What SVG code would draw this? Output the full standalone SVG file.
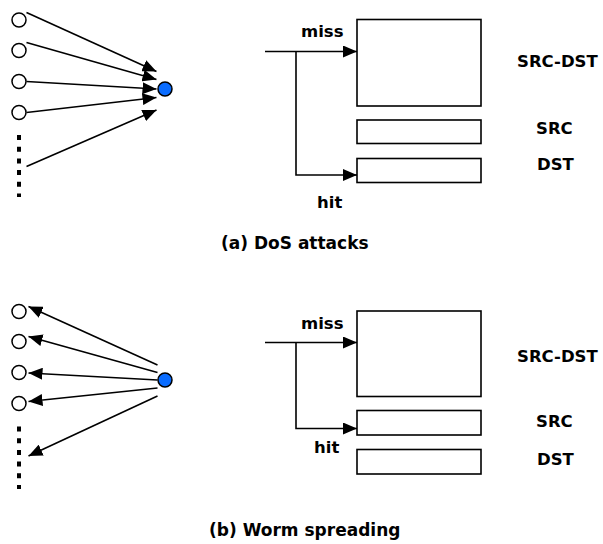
<svg xmlns="http://www.w3.org/2000/svg" width="603" height="544" viewBox="0 0 603 544">
<style>
text{font-family:"DejaVu Sans","Liberation Sans",sans-serif;font-weight:bold;font-size:16.5px;fill:#000}
.cap{font-size:17px}
.ln{stroke:#000;stroke-width:1.6;fill:none}
.node{fill:#fff;stroke:#000;stroke-width:1.5}
.hub{fill:#0a6cff;stroke:#000;stroke-width:1.5}
.box{fill:#fff;stroke:#000;stroke-width:1.6}
.dots{stroke:#000;stroke-width:4;stroke-dasharray:5 6.7;fill:none}
</style>
<defs>
<marker id="ah" markerUnits="userSpaceOnUse" markerWidth="14" markerHeight="12" refX="14" refY="6" orient="auto">
<path d="M0,0 L14,6 L0,12 z" fill="#000"/>
</marker>
</defs>
<rect width="603" height="544" fill="#fff"/>
<g id="top-sources">
<circle class="node" cx="19" cy="20" r="7"/>
<circle class="node" cx="19" cy="50.5" r="7"/>
<circle class="node" cx="19" cy="81.5" r="7"/>
<circle class="node" cx="19" cy="112.5" r="7"/>
<line class="dots" x1="19" y1="135" x2="19" y2="197"/>
</g>
<g id="top-target"><circle class="hub" cx="165" cy="89" r="7"/></g>
<g id="top-table">
<rect class="box" x="357" y="19.5" width="124" height="86.5"/>
<rect class="box" x="357" y="120" width="124" height="23.5"/>
<rect class="box" x="357" y="158.5" width="124" height="24"/>
<text x="301" y="36.5">miss</text>
<text x="317" y="208">hit</text>
<text x="517" y="66.5">SRC-DST</text>
<text x="536" y="133.5">SRC</text>
<text x="537" y="170">DST</text>
</g>
<g id="bottom-sources">
<circle class="node" cx="19" cy="311.5" r="7"/>
<circle class="node" cx="19" cy="341.5" r="7"/>
<circle class="node" cx="19" cy="372.5" r="7"/>
<circle class="node" cx="19" cy="403.5" r="7"/>
<line class="dots" x1="19" y1="426.5" x2="19" y2="489"/>
</g>
<g id="bottom-target"><circle class="hub" cx="165" cy="380" r="7"/></g>
<g id="bottom-table">
<rect class="box" x="357" y="311" width="124" height="85.5"/>
<rect class="box" x="357" y="410.5" width="124" height="24.5"/>
<rect class="box" x="357" y="449.5" width="124" height="24.5"/>
<text x="301" y="329">miss</text>
<text x="314" y="453">hit</text>
<text x="517" y="361.5">SRC-DST</text>
<text x="536" y="426.5">SRC</text>
<text x="537" y="465">DST</text>
</g>
<g id="captions">
<text class="cap" x="221" y="249">(a) DoS attacks</text>
<text class="cap" x="209" y="536">(b) Worm spreading</text>
</g>
<g id="connectors">
<line class="ln" x1="26.5" y1="12.5" x2="156.5" y2="71.5" marker-end="url(#ah)"/>
<line class="ln" x1="26.5" y1="42.5" x2="156.5" y2="79.5" marker-end="url(#ah)"/>
<line class="ln" x1="26.5" y1="81.5" x2="156.5" y2="89" marker-end="url(#ah)"/>
<line class="ln" x1="26.5" y1="112.5" x2="156.5" y2="97.5" marker-end="url(#ah)"/>
<line class="ln" x1="26.5" y1="166.5" x2="156.5" y2="110" marker-end="url(#ah)"/>
<line class="ln" x1="265" y1="51.5" x2="357" y2="51.5" marker-end="url(#ah)"/>
<polyline class="ln" points="296,51.5 296,175 357,175" marker-end="url(#ah)"/>
<line class="ln" x1="157.5" y1="365" x2="28.5" y2="306.5" marker-end="url(#ah)"/>
<line class="ln" x1="157.5" y1="372.5" x2="28.5" y2="336.5" marker-end="url(#ah)"/>
<line class="ln" x1="157.5" y1="380" x2="28.5" y2="373" marker-end="url(#ah)"/>
<line class="ln" x1="157.5" y1="388" x2="28.5" y2="401.5" marker-end="url(#ah)"/>
<line class="ln" x1="157.5" y1="396" x2="28.5" y2="456" marker-end="url(#ah)"/>
<line class="ln" x1="265" y1="342.5" x2="357" y2="342.5" marker-end="url(#ah)"/>
<polyline class="ln" points="296,342.5 296,428.5 357,428.5" marker-end="url(#ah)"/>
</g>
</svg>
